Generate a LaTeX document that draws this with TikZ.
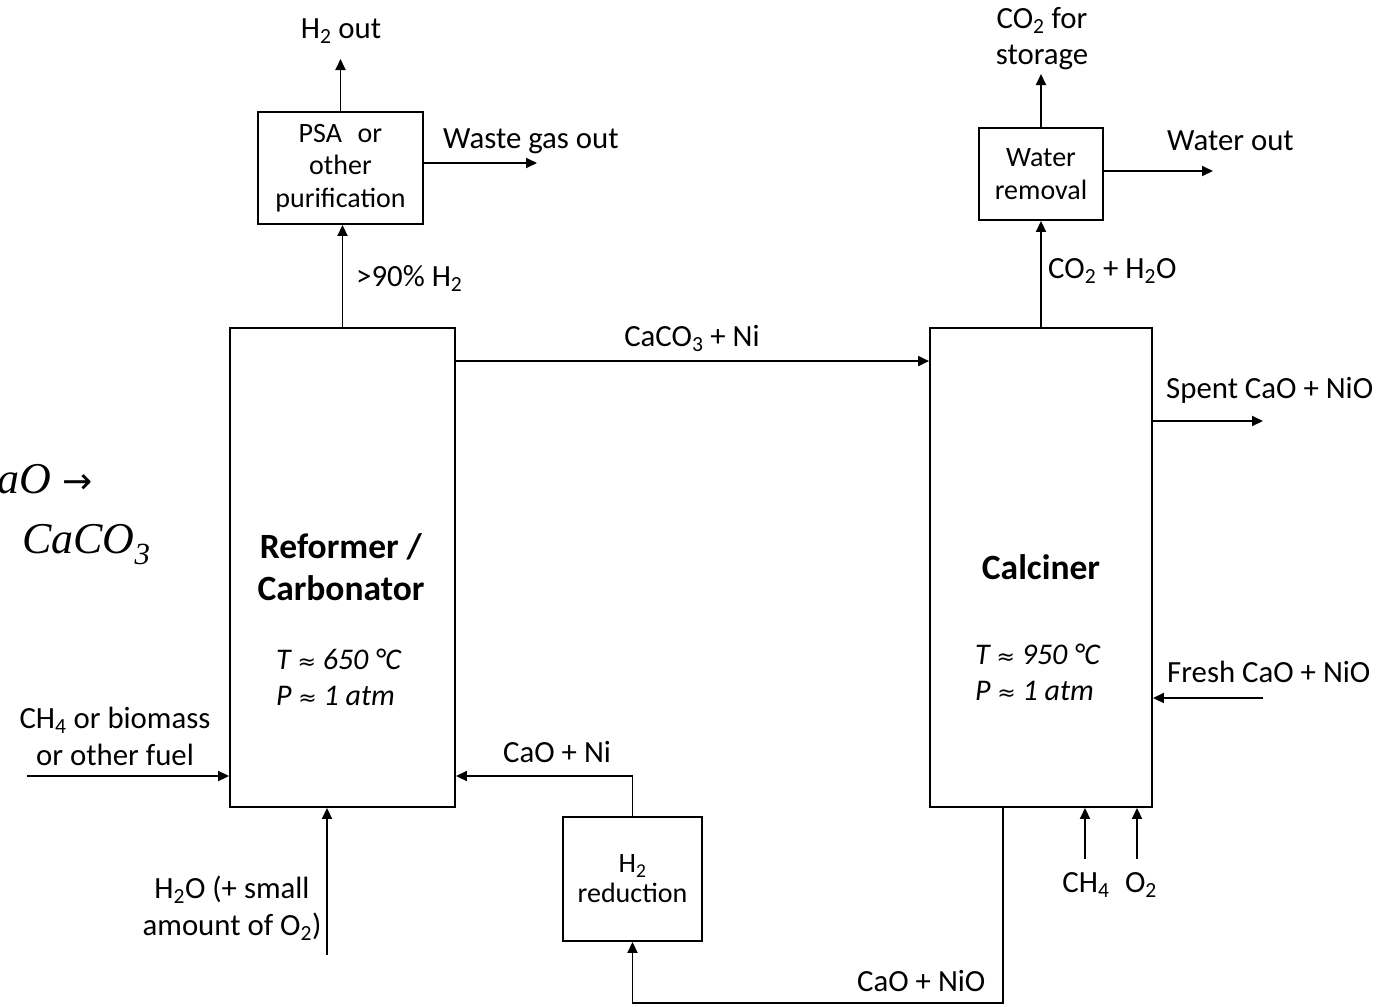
\documentclass[tikz,border=0pt]{standalone}
\usepackage{fontspec}
\setmainfont{Carlito}
\newfontfamily\eqfont{Liberation Serif}
\newfontfamily\arrfont{DejaVu Sans}
\usetikzlibrary{arrows.meta}
\newcommand{\chsub}[1]{\textsubscript{#1}}
\begin{document}
\begin{tikzpicture}[x=1pt,y=-1pt,
  box/.style={draw, line width=1.9pt, inner sep=0pt},
  flow/.style={line width=1.9pt, -{Triangle[length=11pt,width=10pt]}},
  lbl/.style={inner sep=0pt, font=\fontsize{30.8}{36}\selectfont},
  boxtxt/.style={font=\fontsize{28}{32.5}\selectfont, align=center},
  title/.style={inner sep=0pt, font=\fontsize{35.5}{42}\selectfont\bfseries},
  cond/.style={inner sep=0pt, anchor=base west, font=\fontsize{30}{36}\selectfont\itshape},
  eq/.style={inner sep=0pt, font=\fontsize{44}{50}\eqfont\itshape}]
\useasboundingbox[clip] (0,0) rectangle (1382,1007);
\fill[white] (0,0) rectangle (1382,1007);

% boxes
\node[box, minimum width=225pt, minimum height=479pt] (ref) at (342.5,567.5) {};
\node[box, minimum width=222pt, minimum height=479pt] (cal) at (1041,567.5) {};
\node[box, boxtxt, minimum width=165pt, minimum height=112pt] (psa) at (340.5,168) {PSA\,\, or\\other\\purification};
\node[box, boxtxt, minimum width=124pt, minimum height=92pt] (wat) at (1041,174) {Water\\removal};
\node[box, boxtxt, minimum width=139pt, minimum height=124pt, font=\fontsize{28}{30}\selectfont] (red) at (632.5,879) {H\chsub{2}\\reduction};

% box texts
\node[title, anchor=base] (reft1) at (341,558) {Reformer /};
\node[title, anchor=base] (reft2) at (341,600) {Carbonator};
\node[cond] (reft) at (276,669) {T {\upshape\arrfont\fontsize{22}{30}\selectfont ≈} 650 °C};
\node[cond] (refp) at (276,705) {P {\upshape\arrfont\fontsize{22}{30}\selectfont ≈} 1 atm};
\node[title, anchor=base] (calt) at (1041,579) {Calciner};
\node[cond] (calT) at (975,664) {T {\upshape\arrfont\fontsize{22}{30}\selectfont ≈} 950 °C};
\node[cond] (calP) at (975,700) {P {\upshape\arrfont\fontsize{22}{30}\selectfont ≈} 1 atm};

% reformer -> PSA
\draw[flow] (ref.north) -- (ref.north |- psa.south);
\node[lbl, anchor=base west] (l90) at (356,286) {>90\% H\chsub{2}};
\coordinate (h2end) at (340.5,59);
\draw[flow] (psa.north) -- (h2end);
\node[lbl, anchor=base] (h2out) at (341,38) {H\chsub{2} out};
\coordinate (wasteend) at (537,163);
\draw[flow] (psa.east |- wasteend) -- (wasteend);
\node[lbl, anchor=base west] (waste) at (443,148) {Waste gas out};

% reformer -> calciner
\draw[flow] ([yshift=-34pt]ref.north east) -- ([yshift=-34pt]cal.north west);
\node[lbl, anchor=base] (caco3) at (692,346) {CaCO\chsub{3} + Ni};

% calciner -> water removal
\draw[flow] (cal.north) -- (wat.south);
\node[lbl, anchor=base west] (co2h2o) at (1048,278) {CO\chsub{2} + H\chsub{2}O};
\coordinate (co2end) at (1041,74);
\draw[flow] (wat.north) -- (co2end);
\node[lbl, anchor=base] (co2a) at (1042,28) {CO\chsub{2} for};
\node[lbl, anchor=base] (co2b) at (1042,64) {storage};
\coordinate (wend) at (1213,171);
\draw[flow] (wat.east |- wend) -- (wend);
\node[lbl, anchor=base west] (wout) at (1167,150) {Water out};

% calciner side streams
\coordinate (spent) at (1263,421);
\draw[flow] (cal.east |- spent) -- (spent);
\node[lbl, anchor=base west] (spentl) at (1166,398) {Spent CaO + NiO};
\coordinate (fresh) at (1263,698);
\draw[flow] (fresh) -- (cal.east |- fresh);
\node[lbl, anchor=base west] (freshl) at (1167,682) {Fresh CaO + NiO};
\coordinate (ch4s) at (1085,859);
\draw[flow] (ch4s) -- (ch4s |- cal.south);
\node[lbl, anchor=base] (ch4l) at (1086,892) {CH\chsub{4}};
\coordinate (o2s) at (1137,859);
\draw[flow] (o2s) -- (o2s |- cal.south);
\node[lbl, anchor=base] (o2l) at (1141,892) {O\chsub{2}};

% recycle loop
\coordinate (b1) at (1003,1003);
\draw[flow] (b1 |- cal.south) -- (b1) -- (b1 -| red.south) -- (red.south);
\node[lbl, anchor=base west] (cnio) at (857,991) {CaO + NiO};
\coordinate (r1) at (632.5,776);
\draw[flow] (red.north) -- (r1) -- (r1 -| ref.east);
\node[lbl, anchor=base west] (cni) at (503,762) {CaO + Ni};

% reformer feeds
\coordinate (fuel) at (27,776);
\draw[flow] (fuel) -- (fuel -| ref.west);
\node[lbl, anchor=base] (fuel1) at (115,728) {CH\chsub{4} or biomass};
\node[lbl, anchor=base] (fuel2) at (115,765) {or other fuel};
\coordinate (h2oin) at (327,955);
\draw[flow] (h2oin) -- (h2oin |- ref.south);
\node[lbl, anchor=base] (h2o1) at (232,898) {H\chsub{2}O (+ small};
\node[lbl, anchor=base] (h2o2) at (232,935) {amount of O\chsub{2})};

% clipped equation at the left edge
\node[eq, anchor=base east] (eq1) at (93,493) {aO {\upshape\arrfont\fontsize{36}{40}\selectfont →}};
\node[eq, anchor=base east] (eq2a) at (4,553) {+};
\node[eq, anchor=base west] (eq2b) at (22,553) {CaCO\textsubscript{3}};
\end{tikzpicture}
\end{document}
